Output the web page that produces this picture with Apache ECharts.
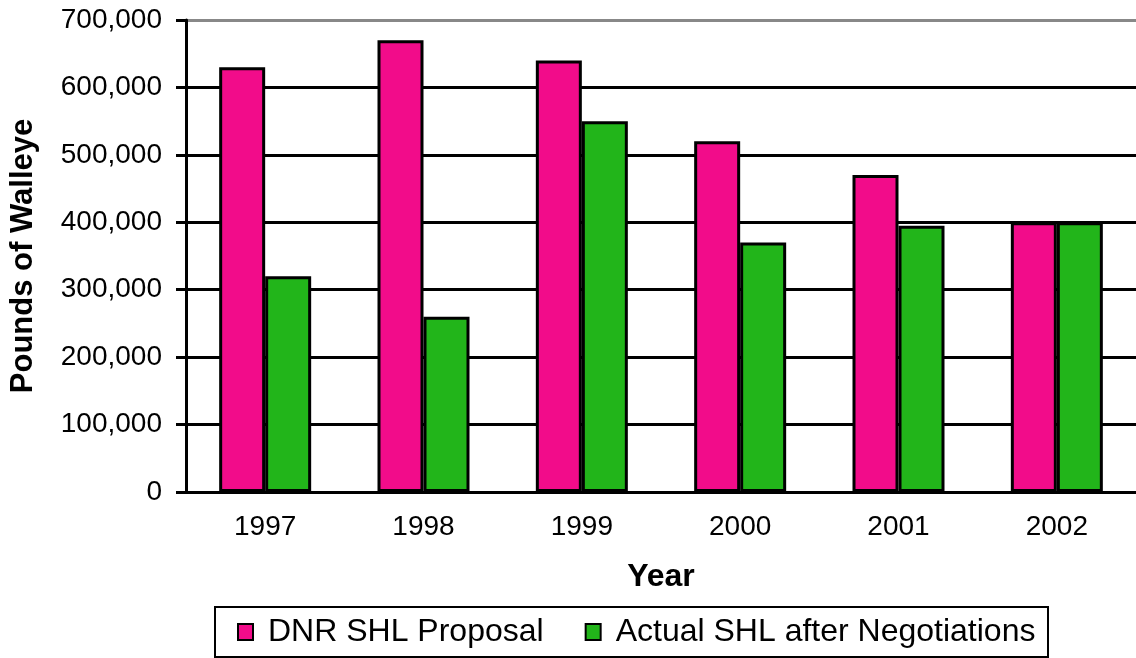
<!DOCTYPE html>
<html>
<head>
<meta charset="utf-8">
<script src="https://cdn.jsdelivr.net/npm/echarts@6/dist/echarts.min.js"></script>
<style>
  html, body { margin: 0; padding: 0; background: #fff; }
  #chart { width: 1136px; height: 658px; }
</style>
</head>
<body>
<div id="chart"></div>
<script>
// data
const years = ['1997', '1998', '1999', '2000', '2001', '2002'];
const dnrProposal = [630000, 670000, 640000, 520000, 470000, 400000];
const actualShl = [320000, 260000, 550000, 370000, 395000, 400000];
const seriesNames = ['DNR SHL Proposal', 'Actual SHL after Negotiations'];

const chart = echarts.init(document.getElementById('chart'));

const option = {
  backgroundColor: '#fff',
  animation: false,
  textStyle: { fontFamily: 'Liberation Sans, Arial, sans-serif', color: '#000' },
  graphic: [{
    type: 'rect',
    shape: { x: 215, y: 607, width: 833, height: 50 },
    style: { fill: '#fff', stroke: '#000', lineWidth: 2 },
    z: -1
  }],
  legend: {
    data: seriesNames,
    left: 232,
    top: 611,
    itemWidth: 15,
    itemHeight: 16,
    itemGap: 41,
    icon: 'rect',
    itemStyle: { borderColor: '#000', borderWidth: 2 },
    textStyle: {
      fontSize: 32,
      color: '#000',
      padding: [0, 0, 0, 10]
    }
  },
  grid: {
    left: 183,
    top: 20,
    width: 960,
    bottom: 166,
    containLabel: false
  },
  xAxis: {
    type: 'category',
    data: years,
    name: 'Year',
    nameLocation: 'middle',
    nameGap: 69,
    nameTextStyle: { fontSize: 32, fontWeight: 'bold', color: '#000' },
    axisLine: { lineStyle: { color: '#000', width: 3 } },
    axisTick: { length: 8, lineStyle: { color: '#000', width: 3 } },
    axisLabel: { fontSize: 28, color: '#000', margin: 21 }
  },
  yAxis: {
    type: 'value',
    min: 0,
    max: 700000,
    interval: 100000,
    name: 'Pounds of Walleye',
    nameLocation: 'middle',
    nameGap: 147,
    nameRotate: 90,
    nameTextStyle: { fontSize: 31, fontWeight: 'bold', color: '#000' },
    axisLine: { show: true, lineStyle: { color: '#000', width: 3 } },
    axisTick: { show: true, length: 10, lineStyle: { color: '#000', width: 3 } },
    axisLabel: {
      fontSize: 28,
      color: '#000',
      margin: 24,
      formatter: v => v.toLocaleString('en-US')
    },
    splitLine: {
      show: true,
      lineStyle: {
        color: ['#000', '#000', '#000', '#000', '#000', '#000', '#000', '#888'],
        width: 3
      }
    }
  },
  series: [{
    name: seriesNames[0],
    type: 'bar',
    data: dnrProposal,
    barWidth: 46,
    barGap: '0%',
    itemStyle: { color: '#F20C8A', borderColor: '#000', borderWidth: 3 }
  }, {
    name: seriesNames[1],
    type: 'bar',
    data: actualShl,
    barWidth: 46,
    barGap: '0%',
    itemStyle: { color: '#22B51A', borderColor: '#000', borderWidth: 3 }
  }]
};

chart.setOption(option);
</script>
</body>
</html>
